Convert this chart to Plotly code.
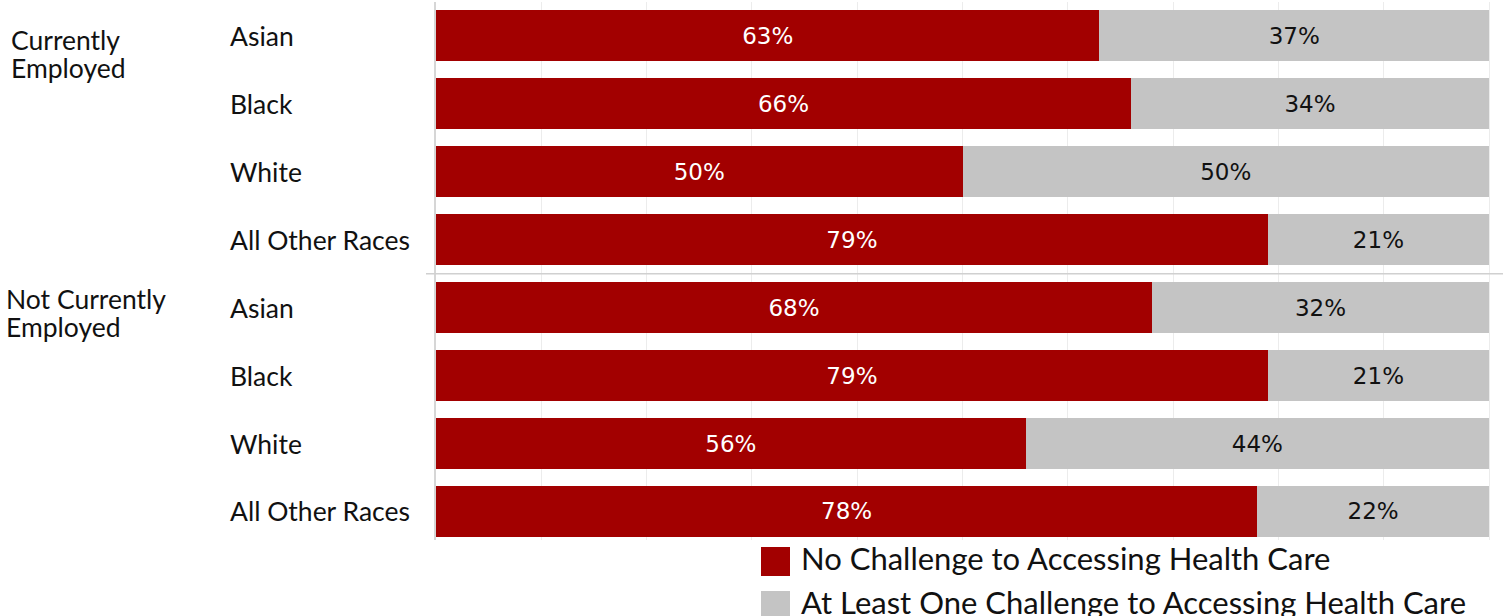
import plotly.graph_objects as go

# Survey shares by employment status and race (percent of respondents)
groups = ["Currently Employed", "Not Currently Employed"]
races = ["Asian", "Black", "White", "All Other Races"]
no_challenge = [63, 66, 50, 79, 68, 79, 56, 78]
at_least_one = [37, 34, 50, 21, 32, 21, 44, 22]
series_names = ["No Challenge to Accessing Health Care",
                "At Least One Challenge to Accessing Health Care"]

RED = "#a20000"
GRAY = "#c4c4c4"

W, H = 1512, 616
L, R, T, B = 436, 9, 2, 76
plot_h = H - T - B

row_labels = [r for _ in groups for r in races]
rows = list(range(len(row_labels)))

fig = go.Figure()
fig.add_trace(go.Bar(
    y=rows, x=no_challenge, orientation="h", name=series_names[0],
    marker=dict(color=RED, line=dict(width=0)),
    text=[f"{v}%" for v in no_challenge], textposition="inside",
    insidetextanchor="middle",
    textfont=dict(family="DejaVu Sans", size=23, color="white"),
    showlegend=False,
))
fig.add_trace(go.Bar(
    y=rows, x=at_least_one, orientation="h", name=series_names[1],
    marker=dict(color=GRAY, line=dict(width=0)),
    text=[f"{v}%" for v in at_least_one], textposition="inside",
    insidetextanchor="middle",
    textfont=dict(family="DejaVu Sans", size=23, color="#111111"),
    showlegend=False,
))


def py(px):
    return (H - B - px) / plot_h


def pxx(px):
    return (px - L) / (W - L - R)


# Race labels, left aligned beside the bars
for i, lab in enumerate(row_labels):
    fig.add_annotation(x=pxx(228), xref="paper", xanchor="left",
                       y=i, yref="y", text=lab, showarrow=False,
                       font=dict(family="Lato", size=26.5, color="#111111"))

# Employment group labels
group_lines = [
    (9, 40, "Currently"), (9, 68, "Employed"),
    (4, 299, "Not Currently"), (4, 327, "Employed"),
]
for gx, gy, txt in group_lines:
    fig.add_annotation(x=pxx(gx), xref="paper", xanchor="left",
                       y=py(gy), yref="paper", yanchor="middle",
                       text=txt, showarrow=False,
                       font=dict(family="Lato", size=26.5, color="#111111"))

# Divider between the two employment groups
fig.add_shape(type="line", xref="paper", yref="y",
              x0=pxx(426), x1=1, y0=3.5, y1=3.5,
              line=dict(color="#d0d0d0", width=1.5))

# Legend drawn as swatches and labels below the plot
for k, (name, col) in enumerate(zip(series_names, [RED, GRAY])):
    top = 547 + 44 * k
    fig.add_shape(type="rect", xref="paper", yref="paper",
                  x0=pxx(761), x1=pxx(790), y0=py(top), y1=py(top + 29),
                  fillcolor=col, line=dict(width=0))
    fig.add_annotation(x=pxx(799), xref="paper", xanchor="left",
                       y=py(top + 10.5), yref="paper", yanchor="middle",
                       text=name, showarrow=False,
                       font=dict(family="Lato", size=31, color="#111111"))

fig.update_layout(
    barmode="stack", bargap=0.25,
    width=W, height=H,
    margin=dict(l=L, r=R, t=T, b=B),
    paper_bgcolor="white", plot_bgcolor="white",
    xaxis=dict(range=[0, 101.33], dtick=10, showgrid=True,
               gridcolor="#ececec", gridwidth=1, zeroline=False,
               showticklabels=False, ticks="", fixedrange=True),
    yaxis=dict(range=[7.42, -0.5], showgrid=False, zeroline=False,
               showticklabels=False, ticks="", showline=True,
               linecolor="#d6d6d6", linewidth=2, fixedrange=True),
)

fig.write_html("out.html")
